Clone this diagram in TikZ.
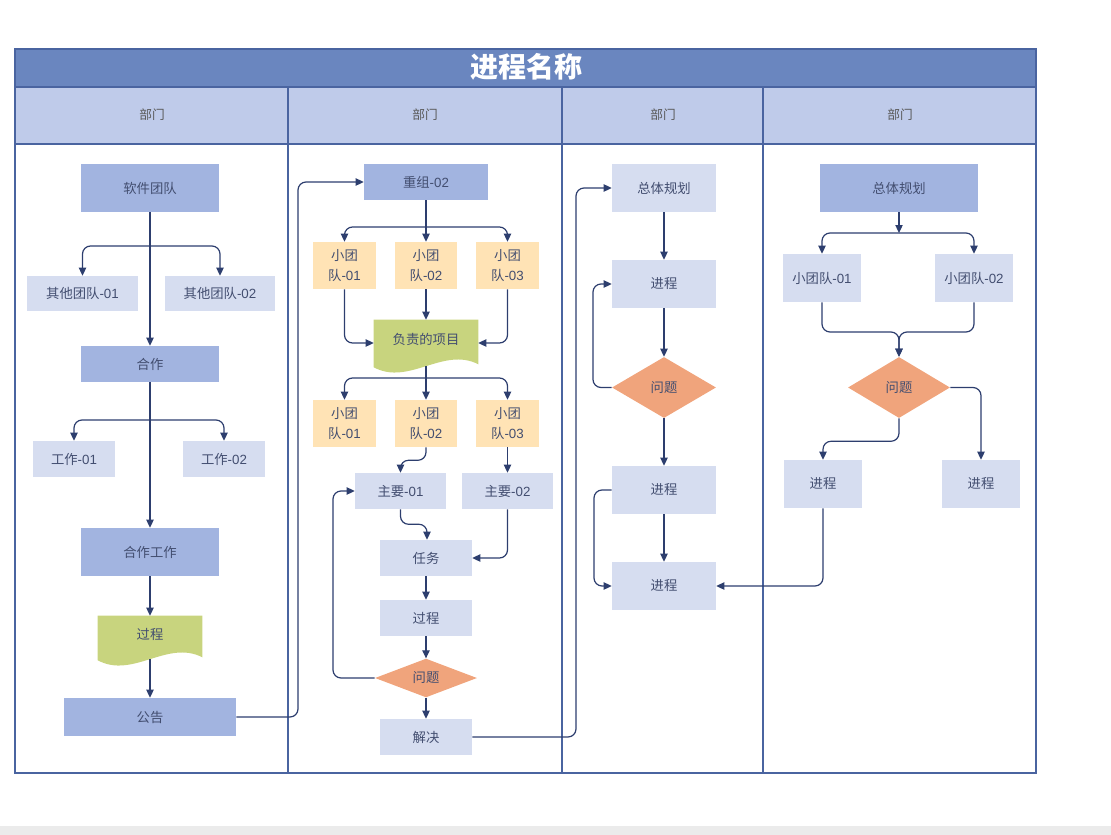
\documentclass[tikz,border=0pt]{standalone}
\usepackage{fontspec}
\setmainfont{Liberation Sans}
\newfontfamily\cjk{Noto Sans CJK SC}
\usetikzlibrary{arrows.meta,shapes.geometric}
\definecolor{titlec}{HTML}{6A86BF}
\definecolor{headc}{HTML}{BFCBEA}
\definecolor{borderc}{HTML}{4A64A0}
\definecolor{darkbox}{HTML}{A2B4E0}
\definecolor{lightbox}{HTML}{D6DDF0}
\definecolor{orangebox}{HTML}{FFE3B5}
\definecolor{greenc}{HTML}{C8D47E}
\definecolor{diac}{HTML}{F0A47C}
\definecolor{txtc}{HTML}{434E70}
\definecolor{linec}{HTML}{2D3E6E}
\tikzset{
  base/.style={inner sep=0pt, text=txtc, font=\fontsize{10}{15.5}\selectfont, align=center},
  dbox/.style={base, fill=darkbox},
  lbox/.style={base, fill=lightbox},
  obox/.style={base, fill=orangebox},
  docbox/.style={base},
  dia/.style={base, diamond, fill=diac},
  conn/.style={draw=linec, line width=0.9pt, rounded corners=6pt, -{Triangle[length=6pt,width=5.5pt]}},
  head/.style={text=black!65, font=\cjk\fontsize{9.5}{11}\selectfont}
}
\newcommand\mkbox[7]{\node[#6, minimum width={(#4-#2)*0.75pt}, minimum height={(#5-#3)*0.75pt}] (#1) at ({(#2+#4)/2},{(#3+#5)/2}) {#7};}
\newcommand\mkwave[1]{%
  \fill[greenc] (#1.north west) -- (#1.north east) -- ([shift={(0,-2)}]#1.south east)
   .. controls ([shift={(-35,-20)}]#1.south east) and ([shift={(35,20)}]#1.south west) .. ([shift={(0,1)}]#1.south west) -- cycle;}
\newcommand\zh[1]{{\cjk #1}}
\begin{document}
\begin{tikzpicture}[x=0.75pt,y=-0.75pt]
\useasboundingbox (0,0) rectangle (1111,835);
\fill[black!8] (0,826) rectangle (1111,835);
% table
\fill[titlec] (15,49) rectangle (1036,87);
\fill[headc] (15,87) rectangle (1036,144);
\draw[borderc, line width=0.9pt] (15,49) rectangle (1036,773);
\draw[borderc, line width=0.9pt] (15,87) -- (1036,87) (15,144) -- (1036,144);
\draw[borderc, line width=0.9pt] (288,87) -- (288,773) (562,87) -- (562,773) (763,87) -- (763,773);
\node[text=white, font=\cjk\fontsize{21}{24}\selectfont\bfseries] (title) at (526,67) {进程名称};
\node[head] (h1) at (152,115) {部门};
\node[head] (h2) at (425,115) {部门};
\node[head] (h3) at (663,115) {部门};
\node[head] (h4) at (900,115) {部门};
% column 1
\mkbox{rj}{81}{164}{219}{212}{dbox}{\zh{软件团队}}
\mkbox{qt1}{27}{276}{138}{311}{lbox}{\zh{其他团队}-01}
\mkbox{qt2}{165}{276}{275}{311}{lbox}{\zh{其他团队}-02}
\mkbox{hz}{81}{346}{219}{382}{dbox}{\zh{合作}}
\mkbox{gz1}{33}{441}{115}{477}{lbox}{\zh{工作}-01}
\mkbox{gz2}{183}{441}{265}{477}{lbox}{\zh{工作}-02}
\mkbox{hzgz}{81}{528}{219}{576}{dbox}{\zh{合作工作}}
\mkbox{gc1}{98}{616}{202}{659}{docbox}{}
\mkwave{gc1}
\node[base] (gc1t) at (150,634) {\zh{过程}};
\mkbox{gg}{64}{698}{236}{736}{dbox}{\zh{公告}}
% column 2
\mkbox{cz}{364}{164}{488}{200}{dbox}{\zh{重组}-02}
\mkbox{s1}{313}{242}{376}{289}{obox}{\zh{小团}\\\zh{队}-01}
\mkbox{s2}{395}{242}{457}{289}{obox}{\zh{小团}\\\zh{队}-02}
\mkbox{s3}{476}{242}{539}{289}{obox}{\zh{小团}\\\zh{队}-03}
\mkbox{fz}{374}{320}{478}{366}{docbox}{}
\mkwave{fz}
\node[base] (fzt) at (426,339) {\zh{负责的项目}};
\mkbox{t1}{313}{400}{376}{447}{obox}{\zh{小团}\\\zh{队}-01}
\mkbox{t2}{395}{400}{457}{447}{obox}{\zh{小团}\\\zh{队}-02}
\mkbox{t3}{476}{400}{539}{447}{obox}{\zh{小团}\\\zh{队}-03}
\mkbox{z1}{355}{473}{446}{509}{lbox}{\zh{主要}-01}
\mkbox{z2}{462}{473}{553}{509}{lbox}{\zh{主要}-02}
\mkbox{rw}{380}{540}{472}{576}{lbox}{\zh{任务}}
\mkbox{gc2}{380}{600}{472}{636}{lbox}{\zh{过程}}
\mkbox{wt2}{375}{660}{477}{696}{dia}{\zh{问题}}
\mkbox{jj}{380}{719}{472}{755}{lbox}{\zh{解决}}
% column 3
\mkbox{zt1}{612}{164}{716}{212}{lbox}{\zh{总体规划}}
\mkbox{jc1}{612}{260}{716}{308}{lbox}{\zh{进程}}
\mkbox{wt3}{612}{357}{716}{418}{dia}{\zh{问题}}
\mkbox{jc2}{612}{466}{716}{514}{lbox}{\zh{进程}}
\mkbox{jc3}{612}{562}{716}{610}{lbox}{\zh{进程}}
% column 4
\mkbox{zt2}{820}{164}{978}{212}{dbox}{\zh{总体规划}}
\mkbox{x1}{783}{254}{861}{302}{lbox}{\zh{小团队}-01}
\mkbox{x2}{935}{254}{1013}{302}{lbox}{\zh{小团队}-02}
\mkbox{wt4}{848}{357}{950}{418}{dia}{\zh{问题}}
\mkbox{j41}{784}{460}{862}{508}{lbox}{\zh{进程}}
\mkbox{j42}{942}{460}{1020}{508}{lbox}{\zh{进程}}
% connectors column 1
\coordinate (c1b) at (150,246);
\coordinate (c1c) at (150,420);
\draw[conn] (rj.south) -- (hz.north);
\draw[conn] (c1b) -| (qt1.north);
\draw[conn] (c1b) -| (qt2.north);
\draw[conn] (hz.south) -- (hzgz.north);
\draw[conn] (c1c) -| (gz1.north);
\draw[conn] (c1c) -| (gz2.north);
\draw[conn] (hzgz.south) -- (gc1.north);
\draw[conn] (gc1.south) -- (gg.north);
\draw[conn] (gg.east) -| (298,182) -- (cz.west);
% connectors column 2
\coordinate (c2a) at (426,227);
\coordinate (c2b) at (426,378);
\draw[conn] (cz.south) -- (s2.north);
\draw[conn] (c2a) -| (s1.north);
\draw[conn] (c2a) -| (s3.north);
\draw[conn] (s1.south) |- (fz.west);
\draw[conn] (s2.south) -- (fz.north);
\draw[conn] (s3.south) |- (fz.east);
\draw[conn] (fz.south) -- (t2.north);
\draw[conn] (c2b) -| (t1.north);
\draw[conn] (c2b) -| (t3.north);
\draw[conn] (t2.south) -- ++(0,13) -| (z1.north);
\draw[conn] (t3.south) -- (z2.north);
\draw[conn] (z1.south) -- ++(0,15) -| ([xshift=0.75pt]rw.north);
\draw[conn] (z2.south) |- (rw.east);
\draw[conn] (rw.south) -- (gc2.north);
\draw[conn] (gc2.south) -- (wt2.north);
\draw[conn] (wt2.south) -- (jj.north);
\draw[conn] (wt2.west) -| (333,491) -- (z1.west);
\draw[conn] (jj.east) -| (576,188) -- (zt1.west);
% connectors column 3
\draw[conn] (zt1.south) -- (jc1.north);
\draw[conn] (jc1.south) -- (wt3.north);
\draw[conn] (wt3.south) -- (jc2.north);
\draw[conn] (jc2.south) -- (jc3.north);
\draw[conn] (wt3.west) -| (593,284) -- (jc1.west);
\draw[conn] (jc2.west) -| (594,586) -- (jc3.west);
% connectors column 4
\coordinate (c4a) at (899,233);
\draw[conn] (zt2.south) -- (c4a);
\draw[conn] (c4a) -| (x1.north);
\draw[conn] (c4a) -| (x2.north);
\draw[conn] (x1.south) |- (899,332) -- (wt4.north);
\draw[conn] (x2.south) |- (899,332) -- (wt4.north);
\draw[conn] (wt4.south) -- ++(0,23) -| (j41.north);
\draw[conn] (wt4.east) -| (j42.north);
\draw[conn] (j41.south) |- (jc3.east);
\end{tikzpicture}
\end{document}
